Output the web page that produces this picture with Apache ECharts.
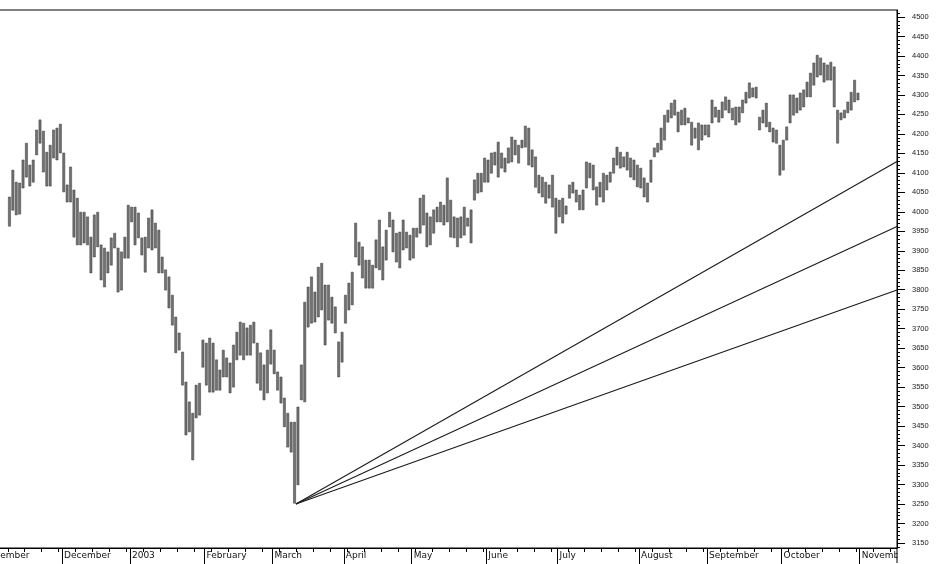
<!DOCTYPE html>
<html>
<head>
<meta charset="utf-8">
<title>Index bar chart with speed lines</title>
<script src="https://cdn.jsdelivr.net/npm/echarts@6/dist/echarts.min.js"></script>
<style>
  html, body { margin: 0; padding: 0; background: #fff; }
  #main { width: 938px; height: 564px; }
</style>
</head>
<body>
<div id="main"></div>
<script>
// month labels and the bar index where each month begins
var monthNames = ['November', 'December', '2003', 'February', 'March', 'April', 'May',
  'June', 'July', 'August', 'September', 'October', 'November'];
var monthFirstBar = [-8, 16, 36, 58, 78, 99, 119, 141, 162, 186, 206, 228, 251];

// daily highs and lows, Nov 2002 - Oct 2003
var highs = [
  4038, 4107, 4076, 4074, 4133, 4176, 4120, 4133, 4210, 4236,
  4207, 4153, 4171, 4210, 4215, 4225, 4151, 4069, 4115, 4056,
  4035, 3999, 3999, 3987, 3935, 3992, 3999, 3915, 3907, 3897,
  3933, 3945, 3907, 3897, 3935, 4017, 4012, 4012, 3997, 3933,
  3935, 3984, 4005, 3971, 3953, 3884, 3851, 3833, 3786, 3730,
  3689, 3640, 3563, 3512, 3483, 3555, 3560, 3671, 3663, 3676,
  3663, 3620, 3594, 3645, 3625, 3612, 3658, 3691, 3717, 3714,
  3702, 3709, 3717, 3663, 3638, 3607, 3645, 3697, 3645, 3589,
  3576, 3522, 3483, 3460, 3460, 3499, 3607, 3768, 3807, 3833,
  3794, 3858, 3868, 3812, 3812, 3781, 3756, 3666, 3691, 3786,
  3817, 3845, 3971, 3922, 3910, 3876, 3876, 3863, 3928, 3979,
  3910, 3953, 3999, 3979, 3945, 3948, 3979, 3948, 3940, 3958,
  3958,
  4035, 4043, 3997, 3987, 4005, 4012, 4025, 4017, 4087, 4030,
  3987, 3984, 3987, 4012, 3984, 4005, 4082, 4099, 4099, 4138,
  4133, 4151, 4153, 4179, 4151, 4138, 4164, 4192, 4184, 4171,
  4184, 4220, 4215, 4159, 4141, 4094, 4089, 4076, 4069, 4094,
  4035, 4030, 4035, 4015, 4069, 4076, 4056, 4043, 4056, 4128,
  4125, 4120, 4064, 4076, 4099, 4094, 4102, 4138, 4166, 4153,
  4141, 4153, 4138, 4133, 4120, 4112,
  4087, 4074, 4133, 4164, 4176, 4215, 4248, 4261, 4279, 4287,
  4256, 4261, 4266, 4241, 4230, 4215, 4228, 4223, 4223, 4223,
  4287, 4269, 4261, 4282, 4295, 4287, 4266, 4269, 4269, 4287,
  4307, 4331, 4318, 4320, 4243, 4261, 4279, 4230, 4215, 4210,
  4171, 4184, 4218, 4300, 4300, 4292, 4305, 4313, 4333, 4356,
  4382, 4402, 4395, 4382, 4377, 4384, 4372, 4261, 4254, 4261,
  4282, 4307, 4338, 4305
];
var lows = [
  3963, 4004, 3992, 3994, 4061, 4089, 4066, 4076, 4146, 4176,
  4102, 4066, 4066, 4138, 4133, 4151, 4051, 4025, 4025, 3935,
  3915, 3915, 3920, 3915, 3843, 3884, 3910, 3825, 3807, 3843,
  3863, 3907, 3794, 3799, 3881, 3881, 3974, 3915, 3933, 3889,
  3845, 3907, 3902, 3907, 3843, 3843, 3799, 3753, 3709, 3638,
  3645, 3555, 3427, 3435, 3363, 3471, 3478, 3601, 3555, 3537,
  3537, 3542, 3542, 3576, 3576, 3535, 3550, 3620, 3632, 3620,
  3632, 3632, 3663, 3560, 3542, 3517, 3535, 3609, 3584, 3542,
  3509, 3448, 3396, 3383, 3252, 3299, 3517, 3512, 3704, 3714,
  3717, 3730, 3748, 3658, 3722, 3714, 3689, 3576, 3614, 3714,
  3748, 3761, 3884, 3863, 3830, 3804, 3804, 3804, 3856, 3851,
  3825, 3876, 3961, 3897, 3871, 3856, 3902, 3907, 3876, 3881,
  3935,
  3945, 3966, 3910, 3915, 3945, 3974, 3974, 3966, 3974, 3935,
  3933, 3910, 3933, 3940, 3963, 3920, 4030, 4048, 4051, 4076,
  4076, 4099, 4120, 4089, 4112, 4102, 4125, 4128, 4146, 4125,
  4164, 4166, 4120, 4115, 4063, 4048, 4038, 4022, 4035, 4012,
  3945, 3987, 3971, 3994, 4035, 4048, 4025, 4005, 4005, 4061,
  4087, 4056, 4017, 4038, 4025, 4056, 4076, 4099, 4120, 4112,
  4115, 4107, 4089, 4082, 4064, 4061,
  4038, 4025, 4076, 4141, 4153, 4159, 4184, 4230, 4241, 4248,
  4205, 4223, 4223, 4228, 4171, 4189, 4159, 4184, 4197, 4192,
  4228, 4243, 4230, 4241, 4261, 4254, 4236, 4223, 4230, 4254,
  4279, 4292, 4295, 4292, 4210, 4228, 4218, 4205, 4179, 4176,
  4094, 4107, 4184, 4228, 4248, 4254, 4261, 4269, 4295, 4295,
  4325, 4346, 4351, 4333, 4338, 4338, 4269, 4176, 4236, 4241,
  4254, 4261, 4282, 4287
];

// speed lines drawn from the March low
var fanStart = [84.4, 3250];
var fanEnds = [4129, 3962, 3799];

var yLabels = [3150, 3200, 3250, 3300, 3350, 3400, 3450, 3500, 3550, 3600, 3650, 3700,
  3750, 3800, 3850, 3900, 3950, 4000, 4050, 4100, 4150, 4200, 4250, 4300, 4350, 4400, 4450, 4500];

var xMin = -8.5, xMax = 261.5;
var yMin = 3137, yMax = 4518;

var monthTicks = monthFirstBar.map(function (b) { return b - 0.5; });
var weekTicks = [];
for (var w = -0.5; w < xMax; w += 5) weekTicks.push(w);
var minorY = [];
for (var m = 3140; m <= 4510; m += 10) minorY.push(m);

var bars = highs.map(function (h, i) { return [i, h, lows[i]]; });

var fanSeries = fanEnds.map(function (end, k) {
  return {
    type: 'line',
    name: 'fan' + k,
    data: [fanStart, [xMax, end]],
    symbol: 'none',
    lineStyle: { color: '#1a1a1a', width: 1.1 },
    z: 3
  };
});

var chart = echarts.init(document.getElementById('main'));
chart.setOption({
  animation: false,
  backgroundColor: '#fff',
  grid: {
    left: -19.4, right: 41, top: 10, bottom: 16,
    outerBoundsMode: 'none',
    show: true, borderColor: '#000', borderWidth: 1
  },
  xAxis: [{
    type: 'value', min: xMin, max: xMax,
    splitLine: { show: false },
    axisLine: { onZero: false, lineStyle: { color: '#000', width: 1 } },
    axisTick: { customValues: monthTicks, length: 16, lineStyle: { color: '#000' } },
    axisLabel: {
      customValues: monthTicks,
      formatter: function (v) {
        var i = monthTicks.indexOf(v);
        return i >= 0 ? monthNames[i] : '';
      },
      align: 'left', margin: 3, padding: [0, 0, 0, 2],
      fontFamily: 'DejaVu Sans', fontSize: 9, color: '#111'
    }
  }, {
    type: 'value', min: xMin, max: xMax, position: 'bottom',
    splitLine: { show: false },
    axisLine: { show: false, onZero: false },
    axisTick: { customValues: weekTicks, length: 4, lineStyle: { color: '#000' } },
    axisLabel: { show: false }
  }],
  yAxis: [{
    type: 'value', min: yMin, max: yMax, position: 'right',
    splitLine: { show: false },
    axisLine: { show: true, onZero: false, lineStyle: { color: '#000', width: 1 } },
    axisTick: { customValues: yLabels, length: 8, lineStyle: { color: '#000' } },
    axisLabel: {
      customValues: yLabels, margin: 15,
      formatter: function (v) { return String(v); },
      fontFamily: 'Liberation Sans', fontSize: 7.5, color: '#222'
    }
  }, {
    type: 'value', min: yMin, max: yMax, position: 'right',
    splitLine: { show: false },
    axisLine: { show: false, onZero: false },
    axisTick: { customValues: minorY, length: 3, lineStyle: { color: '#000' } },
    axisLabel: { show: false }
  }],
  series: [{
    type: 'custom',
    name: 'bars',
    data: bars,
    encode: { x: 0, y: [1, 2] },
    renderItem: function (params, api) {
      var top = api.coord([api.value(0), api.value(1)]);
      var bot = api.coord([api.value(0), api.value(2)]);
      return {
        type: 'rect',
        shape: { x: top[0] - 1.1, y: top[1], width: 2.2, height: bot[1] - top[1] },
        style: { fill: '#727272', stroke: '#3a3a3a', lineWidth: 0.5 }
      };
    },
    z: 2
  }].concat(fanSeries),
  graphic: [{
    // right frame edge runs past the date row and cuts off the last label
    type: 'rect', z: 100,
    shape: { x: 897.5, y: 550, width: 41, height: 14 },
    style: { fill: '#fff' }
  }, {
    type: 'line', z: 101,
    shape: { x1: 897, y1: 548, x2: 897, y2: 563 },
    style: { stroke: '#000', lineWidth: 1 }
  }]
});
</script>
</body>
</html>
